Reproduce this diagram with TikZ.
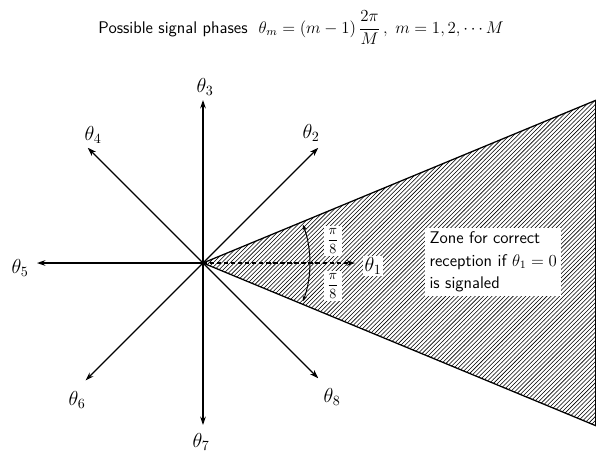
\documentclass[tikz,border=0pt]{standalone}
\usepackage{tikz}
\usepackage{amsmath}
\usetikzlibrary{arrows.meta,positioning,calc,patterns}

\begin{document}
\begin{tikzpicture}[x=0.025cm,y=0.025cm,font=\large\sffamily,
  ray/.style={line width=0.9pt,-{Stealth[length=6pt,width=4pt]}},
  phase/.style={font=\Large,inner sep=1pt},
  zone/.style={draw=black,line width=0.9pt,pattern=north east lines},
  halfmark/.style={line width=0.7pt,-{Stealth[length=4pt,width=3pt]}},
  halflbl/.style={font=\normalsize,inner sep=2pt,fill=white},
  zonetext/.style={fill=white,align=left,inner sep=3pt,font=\large\sffamily}]

% ---------------- frame: same proportions as the reference ------------------
\useasboundingbox (-203,-192) rectangle (393,263);

% ---------------- title -----------------------------------------------------
\node (title) at (98,235)
  {Possible signal phases~~$\theta_m = (m-1)\,\dfrac{2\pi}{M}\,,\; m=1,2,\cdots M$};

% ---------------- decision zone for theta_1 ---------------------------------
\coordinate (O) at (0,0);
\coordinate (zup) at (22.5:425);
\coordinate (zdn) at (-22.5:425);
\fill[white] (O) -- (zup) -- (zdn) -- cycle;
\draw[zone] (O) -- (zup) -- (zdn) -- cycle;
\node[zonetext,anchor=west] (ztxt) at (222,1)
  {Zone for correct\\[2pt]reception if $\theta_1 = 0$\\[2pt]is signaled};

% ---------------- the eight signal phases -----------------------------------
\coordinate (t1) at (152,0);
\coordinate (t2) at (45:163);
\coordinate (t3) at (90:163);
\coordinate (t4) at (135:163);
\coordinate (t5) at (180:166);
\coordinate (t6) at (225:166);
\coordinate (t7) at (270:162);
\coordinate (t8) at (315:163);

\draw[ray,densely dashed] (O) -- (t1);
\draw[ray] (O) -- (t2);
\draw[ray] (O) -- (t3);
\draw[ray] (O) -- (t4);
\draw[ray] (O) -- (t5);
\draw[ray] (O) -- (t6);
\draw[ray] (O) -- (t7);
\draw[ray] (O) -- (t8);

\node[phase,fill=white] (l1) at (170,-3) {$\theta_1$};
\node[phase] (l2) at (108,130) {$\theta_2$};
\node[phase] (l3) at (2,176) {$\theta_3$};
\node[phase] (l4) at (-110,128) {$\theta_4$};
\node[phase] (l5) at (-183,-5) {$\theta_5$};
\node[phase] (l6) at (-126,-137) {$\theta_6$};
\node[phase] (l7) at (-2,-179) {$\theta_7$};
\node[phase] (l8) at (129,-134) {$\theta_8$};

% ---------------- half-angle marks ------------------------------------------
\draw[halfmark] (107,0) arc[start angle=0,end angle=21,radius=107];
\draw[halfmark] (107,0) arc[start angle=0,end angle=-21,radius=107];
\node[halflbl] (pu) at (130,22) {$\dfrac{\pi}{8}$};
\node[halflbl] (pd) at (130,-23) {$\dfrac{\pi}{8}$};

\end{tikzpicture}
\end{document}
